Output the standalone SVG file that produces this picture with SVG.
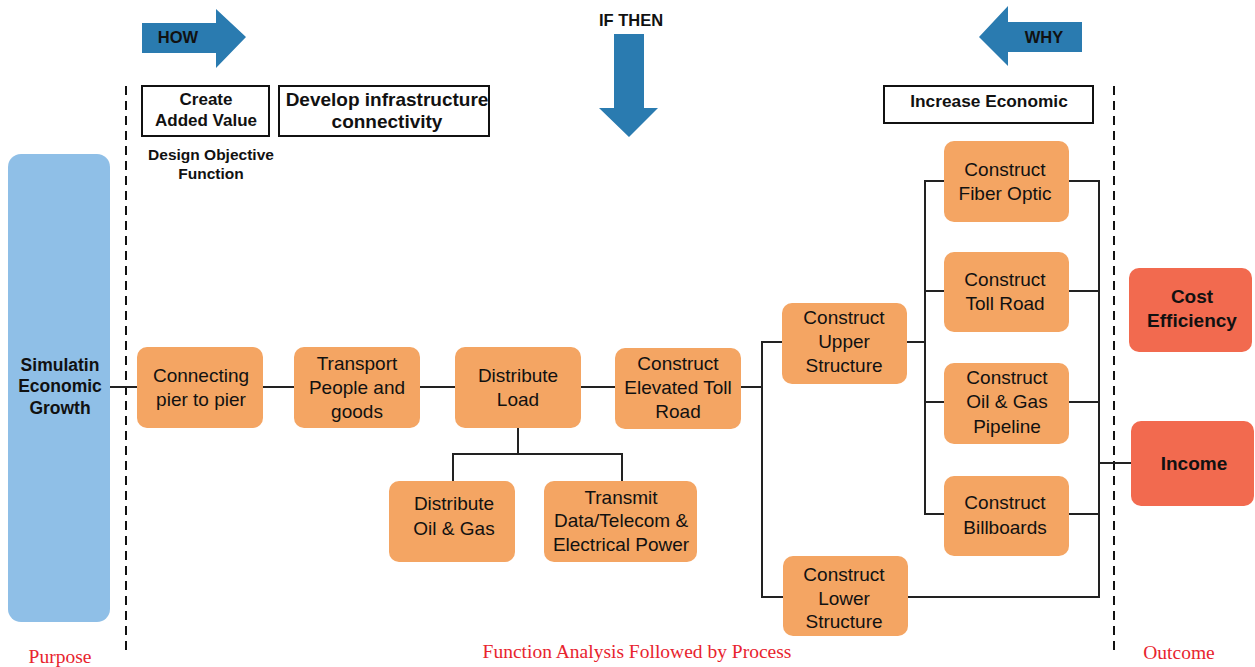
<svg xmlns="http://www.w3.org/2000/svg" width="1255" height="667" viewBox="0 0 1255 667">
<style>
.node{fill:#f4a563;}
.out{fill:#f26a4f;}
.t{font-family:"Liberation Sans",Arial,sans-serif;font-size:19px;fill:#111;text-anchor:middle;}
.b{font-family:"Liberation Sans",Arial,sans-serif;font-weight:bold;fill:#111;text-anchor:middle;}
.r{font-family:"Liberation Serif","Times New Roman",serif;font-size:19.5px;fill:#e8242e;text-anchor:middle;}
.c{fill:none;stroke:#222;stroke-width:2;}
.dash{stroke:#111;stroke-width:2;stroke-dasharray:9,6;}
.box{fill:#fff;stroke:#111;stroke-width:2;}
.arr{fill:#2a7bb0;}
</style>
<rect width="1255" height="667" fill="#fff"/>
<g id="dividers">
<line class="dash" x1="126" y1="86" x2="126" y2="652"/>
<line class="dash" x1="1114" y1="86" x2="1114" y2="652"/>
</g>
<g id="how">
<polygon class="arr" points="142,23 216,23 216,9 246,37 216,68 216,53 142,53"/>
<text class="b" x="178" y="43" font-size="16.5">HOW</text>
</g>
<g id="ifthen">
<text class="b" x="631" y="26" font-size="16.5">IF THEN</text>
<polygon class="arr" points="614,34 644,34 644,108 658,108 629,137 599,108 614,108"/>
</g>
<g id="why">
<polygon class="arr" points="1082,22 1008,22 1008,6 979,37 1008,66 1008,52 1082,52"/>
<text class="b" x="1044" y="43" font-size="16.5">WHY</text>
</g>
<g id="create">
<rect class="box" x="142" y="86" width="127" height="50"/>
<text class="b" x="206" y="105" font-size="17">Create</text>
<text class="b" x="206" y="126" font-size="17">Added Value</text>
</g>
<g id="develop">
<rect class="box" x="279" y="86" width="210" height="50"/>
<text class="b" x="387" y="106" font-size="19">Develop infrastructure</text>
<text class="b" x="387" y="128" font-size="19">connectivity</text>
</g>
<g id="design">
<text class="b" x="211" y="160" font-size="15.5">Design Objective</text>
<text class="b" x="211" y="179" font-size="15.5">Function</text>
</g>
<g id="increase">
<rect class="box" x="884" y="86" width="209" height="37"/>
<text class="b" x="989" y="107" font-size="17.3">Increase Economic</text>
</g>
<g id="connectors">
<path class="c" d="M110,387H137M263,387H294M420,387H455M581,387H615M741,387H762"/>
<path class="c" d="M782,342H762V597H783"/>
<path class="c" d="M518,428V454M453,481V454H622V481"/>
<path class="c" d="M907,342H925M944,181H925V514H944M925,291H944M925,402H944"/>
<path class="c" d="M1069,181H1099V597H908M1069,291H1099M1069,402H1099M1069,514H1099M1099,463H1131"/>
</g>
<g id="purpose">
<rect x="8" y="154" width="102" height="468" rx="13" fill="#8fbfe7"/>
<text class="b" x="60" y="371" font-size="17.5">Simulatin</text>
<text class="b" x="60" y="392" font-size="17.5">Economic</text>
<text class="b" x="60" y="414" font-size="17.5">Growth</text>
</g>
<g id="connecting">
<rect class="node" x="137" y="347" width="126" height="81" rx="10"/>
<text class="t" x="201" y="382">Connecting</text>
<text class="t" x="201" y="406">pier to pier</text>
</g>
<g id="transport">
<rect class="node" x="294" y="347" width="126" height="81" rx="10"/>
<text class="t" x="357" y="370">Transport</text>
<text class="t" x="357" y="394">People and</text>
<text class="t" x="357" y="418">goods</text>
</g>
<g id="distload">
<rect class="node" x="455" y="347" width="126" height="81" rx="10"/>
<text class="t" x="518" y="382">Distribute</text>
<text class="t" x="518" y="406">Load</text>
</g>
<g id="elevated">
<rect class="node" x="615" y="348" width="126" height="81" rx="10"/>
<text class="t" x="678" y="370">Construct</text>
<text class="t" x="678" y="394">Elevated Toll</text>
<text class="t" x="678" y="418">Road</text>
</g>
<g id="distoil">
<rect class="node" x="389" y="481" width="126" height="81" rx="10"/>
<text class="t" x="454" y="510">Distribute</text>
<text class="t" x="454" y="535">Oil &amp; Gas</text>
</g>
<g id="transmit">
<rect class="node" x="544" y="481" width="153" height="81" rx="10"/>
<text class="t" x="621" y="504">Transmit</text>
<text class="t" x="621" y="527">Data/Telecom &amp;</text>
<text class="t" x="621" y="551">Electrical Power</text>
</g>
<g id="upper">
<rect class="node" x="782" y="303" width="125" height="81" rx="10"/>
<text class="t" x="844" y="324">Construct</text>
<text class="t" x="844" y="348">Upper</text>
<text class="t" x="844" y="372">Structure</text>
</g>
<g id="lower">
<rect class="node" x="783" y="556" width="125" height="80" rx="10"/>
<text class="t" x="844" y="581">Construct</text>
<text class="t" x="844" y="605">Lower</text>
<text class="t" x="844" y="628">Structure</text>
</g>
<g id="fiber">
<rect class="node" x="944" y="141" width="125" height="81" rx="10"/>
<text class="t" x="1005" y="176">Construct</text>
<text class="t" x="1005" y="200">Fiber Optic</text>
</g>
<g id="tollroad">
<rect class="node" x="944" y="252" width="125" height="80" rx="10"/>
<text class="t" x="1005" y="286">Construct</text>
<text class="t" x="1005" y="310">Toll Road</text>
</g>
<g id="pipeline">
<rect class="node" x="944" y="363" width="125" height="81" rx="10"/>
<text class="t" x="1007" y="384">Construct</text>
<text class="t" x="1007" y="408">Oil &amp; Gas</text>
<text class="t" x="1007" y="433">Pipeline</text>
</g>
<g id="billboards">
<rect class="node" x="944" y="476" width="125" height="80" rx="10"/>
<text class="t" x="1005" y="509">Construct</text>
<text class="t" x="1005" y="534">Billboards</text>
</g>
<g id="cost">
<rect class="out" x="1129" y="268" width="123" height="84" rx="10"/>
<text class="b" x="1192" y="303" font-size="19">Cost</text>
<text class="b" x="1192" y="327" font-size="19">Efficiency</text>
</g>
<g id="income">
<rect class="out" x="1131" y="421" width="123" height="85" rx="10"/>
<text class="b" x="1194" y="470" font-size="19">Income</text>
</g>
<g id="labels">
<text class="r" x="60" y="663">Purpose</text>
<text class="r" x="637" y="658">Function Analysis Followed by Process</text>
<text class="r" x="1179" y="659">Outcome</text>
</g>
</svg>
